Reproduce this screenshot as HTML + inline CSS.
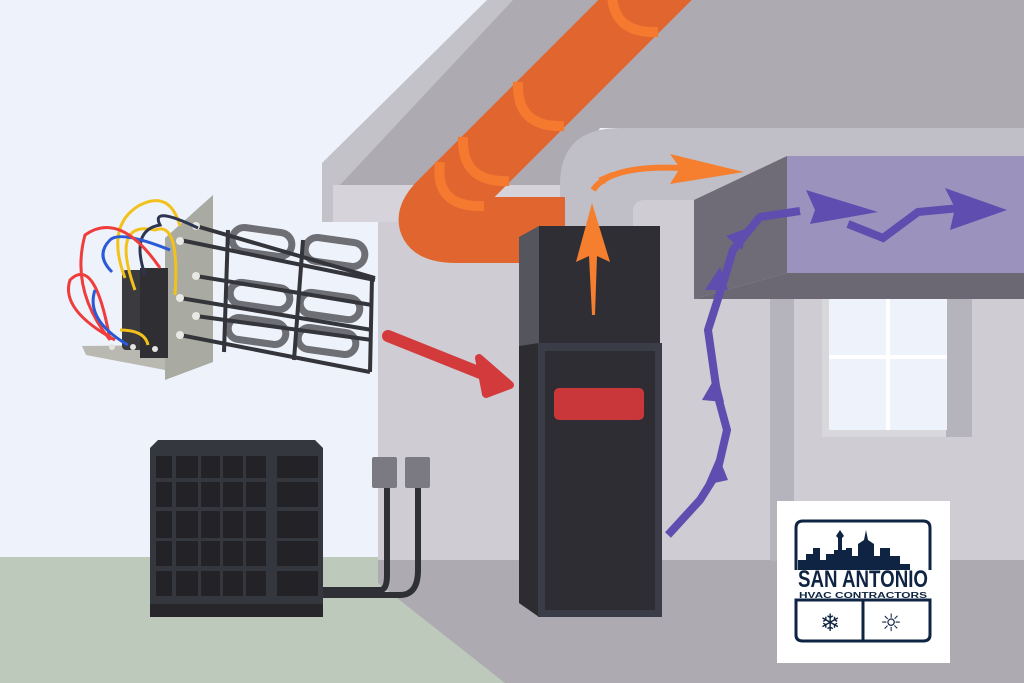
<!DOCTYPE html>
<html><head><meta charset="utf-8"><style>
html,body{margin:0;padding:0;background:#eef3fb;}
svg{display:block;}
</style></head><body>
<svg width="1024" height="683" viewBox="0 0 1024 683" xmlns="http://www.w3.org/2000/svg">
<rect width="1024" height="683" fill="#eef3fb"/>
<rect x="378" y="190" width="646" height="380" fill="#cfcdd3"/>
<polygon points="378,560 1024,560 1024,683 378,683" fill="#adaab2"/>
<polygon points="0,557 378,557 378,583 505,683 0,683" fill="#bdc9bb"/>
<polygon points="487,0 1024,0 1024,128 600,128 560,185 333,185 322,185 322,163" fill="#c3c2c9"/>
<polygon points="513,0 1024,0 1024,128 600,128 560,185 340,185" fill="#adaab1"/>
<rect x="322" y="185" width="245" height="37" fill="#d6d4da"/>
<rect x="322" y="185" width="11" height="37" fill="#c3c2c9"/>
<path d="M560,240 L560,185 Q560,128 620,128 L1024,128 L1024,200 L645,200 Q633,200 633,212 L633,240 Z" fill="#c0bfc7"/>
<path d="M675,-30 L442,203 Q415,230 458,230 L565,230" fill="none" stroke="#e0652f" stroke-width="66" stroke-linejoin="round"/>
<g fill="none" stroke="#f57a30" stroke-width="10">
<path d="M612,-12 Q610,34 658,32"/>
<path d="M518,82 Q516,128 564,126"/>
<path d="M463,137 Q461,183 509,181"/>
<path d="M440,162 Q434,208 484,206"/>
</g>
<polygon points="694,200 787,156 787,273 694,299" fill="#6f6b77"/>
<rect x="787" y="156" width="237" height="117" fill="#9b92bd"/>
<polygon points="694,299 787,273 1024,273 1024,299" fill="#6b6873"/>
<rect x="770" y="299" width="24" height="262" fill="#b5b3bb"/>
<rect x="822" y="299" width="133" height="138" fill="#d8d7dc"/>
<rect x="946" y="299" width="26" height="138" fill="#b5b3bb"/>
<rect x="829" y="299" width="118" height="131" fill="#eef3fb"/>
<rect x="886" y="299" width="4" height="131" fill="#fff"/>
<rect x="829" y="355" width="118" height="4" fill="#fff"/>
<polygon points="519,237 539,226 539,343 519,348" fill="#55555d"/>
<rect x="539" y="226" width="121" height="118" fill="#2f2e34"/>
<polygon points="519,346 539,343 539,617 519,603" fill="#2c2c31"/>
<rect x="538" y="343" width="124" height="274" fill="#3a3d47"/>
<rect x="545" y="351" width="110" height="259" fill="#2e2d33"/>
<rect x="554" y="388" width="90" height="32" rx="5" fill="#c9373b"/>
<line x1="388" y1="336" x2="488" y2="376" stroke="#d33a3c" stroke-width="12" stroke-linecap="round"/>
<polygon points="479,358 510,385 486,394" fill="#d33a3c" stroke="#d33a3c" stroke-width="8" stroke-linejoin="round"/>
<polygon points="592,203 610,262 597,256 595,315 592,315 589,256 576,262" fill="#f57f2f"/>
<path d="M593,190 Q610,165 680,168" fill="none" stroke="#f57f2f" stroke-width="6"/>
<polygon points="744,172 670,154 680,168 670,184" fill="#f57f2f"/>
<polygon points="598,178 612,172 605,184" fill="#f57f2f"/>
<path d="M668,535 L700,500 L717,473 L727,430 L717,393 L708,330 L723,283 L733,250 L760,217 L800,211" fill="none" stroke="#5f4db0" stroke-width="8" stroke-linejoin="round"/>
<polygon points="878,212 806,190 815,210 810,224" fill="#5f4db0"/>
<polygon points="718,455 705,485 728,480" fill="#5f4db0"/>
<polygon points="717,374 702,400 724,402" fill="#5f4db0"/>
<polygon points="720,267 705,290 728,290" fill="#5f4db0"/>
<polygon points="748,228 726,236 742,250" fill="#5f4db0"/>
<path d="M848,224 L883,238 L918,212 L960,208" fill="none" stroke="#5f4db0" stroke-width="8" stroke-linejoin="miter"/>
<polygon points="1007,210 945,188 955,208 950,230" fill="#5f4db0"/>
<path d="M322,590 L380,590 Q387,590 387,575 L387,480" fill="none" stroke="#2f3035" stroke-width="6"/>
<path d="M322,595 L400,595 Q418,595 418,570 L418,480" fill="none" stroke="#2f3035" stroke-width="6"/>
<rect x="372" y="457" width="25" height="31" rx="2" fill="#7b7a82"/>
<rect x="405" y="457" width="25" height="31" rx="2" fill="#7b7a82"/>
<polygon points="158,440 315,440 323,448 323,610 315,617 158,617 150,610 150,448" fill="#35373e"/>
<rect x="150" y="604" width="173" height="13" fill="#26262b"/>
<g fill="#232226">
<rect x="156" y="456" width="16" height="22"/><rect x="176" y="456" width="22" height="22"/><rect x="201" y="456" width="19" height="22"/><rect x="223" y="456" width="20" height="22"/><rect x="246" y="456" width="20" height="22"/>
<rect x="156" y="482" width="16" height="25"/><rect x="176" y="482" width="22" height="25"/><rect x="201" y="482" width="19" height="25"/><rect x="223" y="482" width="20" height="25"/><rect x="246" y="482" width="20" height="25"/>
<rect x="156" y="511" width="16" height="27"/><rect x="176" y="511" width="22" height="27"/><rect x="201" y="511" width="19" height="27"/><rect x="223" y="511" width="20" height="27"/><rect x="246" y="511" width="20" height="27"/>
<rect x="156" y="541" width="16" height="25"/><rect x="176" y="541" width="22" height="25"/><rect x="201" y="541" width="19" height="25"/><rect x="223" y="541" width="20" height="25"/><rect x="246" y="541" width="20" height="25"/>
<rect x="156" y="571" width="16" height="25"/><rect x="176" y="571" width="22" height="25"/><rect x="201" y="571" width="19" height="25"/><rect x="223" y="571" width="20" height="25"/><rect x="246" y="571" width="20" height="25"/>
<rect x="277" y="456" width="41" height="22"/><rect x="277" y="482" width="41" height="25"/><rect x="277" y="511" width="41" height="27"/><rect x="277" y="541" width="41" height="25"/><rect x="277" y="571" width="41" height="25"/>
</g>
<polygon points="82,346 165,345 165,370 86,355" fill="#b9b9b2"/>
<polygon points="165,238 213,195 213,362 165,380" fill="#a9aaa2"/>
<g fill="none" stroke="#6e6f75" stroke-width="7">
<rect x="232" y="230" width="60" height="24" rx="12" transform="rotate(8 262 242)"/>
<rect x="305" y="240" width="60" height="24" rx="12" transform="rotate(8 335 252)"/>
<rect x="230" y="285" width="60" height="22" rx="11" transform="rotate(8 260 296)"/>
<rect x="300" y="295" width="60" height="22" rx="11" transform="rotate(8 330 306)"/>
<rect x="228" y="320" width="58" height="22" rx="11" transform="rotate(8 257 331)"/>
<rect x="298" y="330" width="58" height="22" rx="11" transform="rotate(8 327 341)"/>
</g>
<g stroke="#34353a" stroke-width="4">
<line x1="196" y1="226" x2="375" y2="278"/><line x1="180" y1="240" x2="375" y2="280"/>
<line x1="196" y1="276" x2="372" y2="305"/><line x1="180" y1="298" x2="372" y2="330"/>
<line x1="196" y1="316" x2="372" y2="340"/><line x1="180" y1="335" x2="370" y2="372"/>
<line x1="228" y1="230" x2="224" y2="352"/><line x1="303" y1="240" x2="294" y2="360"/><line x1="372" y1="278" x2="370" y2="372"/>
</g>
<g fill="#e8e8e4"><circle cx="196" cy="226" r="4"/><circle cx="180" cy="241" r="4"/><circle cx="196" cy="276" r="4"/><circle cx="180" cy="298" r="4"/><circle cx="196" cy="316" r="4"/><circle cx="180" cy="335" r="4"/></g>
<rect x="122" y="270" width="40" height="80" rx="4" fill="#3a3a3f"/>
<rect x="140" y="268" width="28" height="90" fill="#2e2e33"/>
<g fill="none" stroke-width="3">
<path d="M180,226 Q170,190 140,205 Q105,225 125,278" stroke="#f2c21b"/>
<path d="M135,290 Q110,220 155,230 Q180,220 175,295" stroke="#f2c21b"/>
<path d="M198,228 Q150,205 160,225 Q130,230 145,275" stroke="#2e3550"/>
<path d="M170,250 Q120,230 110,240 Q95,255 112,272" stroke="#2b5ad6"/>
<path d="M160,268 Q120,210 85,235 Q70,290 110,340" stroke="#ef3c3c"/>
<path d="M115,340 Q60,310 70,280 Q95,255 110,340" stroke="#ef3c3c"/>
<path d="M95,290 Q85,320 128,345" stroke="#2b5ad6"/>
<path d="M120,330 Q145,330 148,345" stroke="#f2c21b"/>
</g>
<g fill="#e4e4e0"><circle cx="112" cy="347" r="3"/><circle cx="133" cy="347" r="3"/><circle cx="155" cy="349" r="3"/></g>
<rect x="777" y="501" width="173" height="162" fill="#ffffff"/>
<g fill="none" stroke="#0f2442" stroke-width="3">
<path d="M796,570 L796,528 Q796,521 803,521 L923,521 Q930,521 930,528 L930,570"/>
<path d="M796,600 L930,600 L930,635 Q930,641 923,641 L803,641 Q796,641 796,635 Z"/>
<line x1="863" y1="600" x2="863" y2="641"/>
</g>
<polygon points="798,570 798,560 806,560 806,554 813,554 813,548 820,548 820,560 826,560 826,554 834,554 834,550 838,550 838,538 836,536 840,530 844,536 842,538 842,550 846,550 846,548 852,548 852,556 858,556 858,544 864,540 866,530 868,540 874,544 874,556 880,556 880,548 890,548 890,556 900,556 900,564 910,564 910,570" fill="#0f2442"/>
<text x="863" y="587" text-anchor="middle" font-family="Liberation Sans Narrow, Liberation Sans, sans-serif" font-weight="bold" font-size="24" fill="#0f2442" textLength="130" lengthAdjust="spacingAndGlyphs">SAN ANTONIO</text>
<text x="863" y="598" text-anchor="middle" font-family="Liberation Sans, sans-serif" font-weight="bold" font-size="8" fill="#0f2442" textLength="128" lengthAdjust="spacingAndGlyphs">HVAC CONTRACTORS</text>
<text x="830" y="631" text-anchor="middle" font-family="DejaVu Sans, sans-serif" font-size="24" fill="#0f2442">❄</text>
<text x="891" y="631" text-anchor="middle" font-family="DejaVu Sans, sans-serif" font-size="24" fill="#0f2442">☼</text>
</svg>
</body></html>
